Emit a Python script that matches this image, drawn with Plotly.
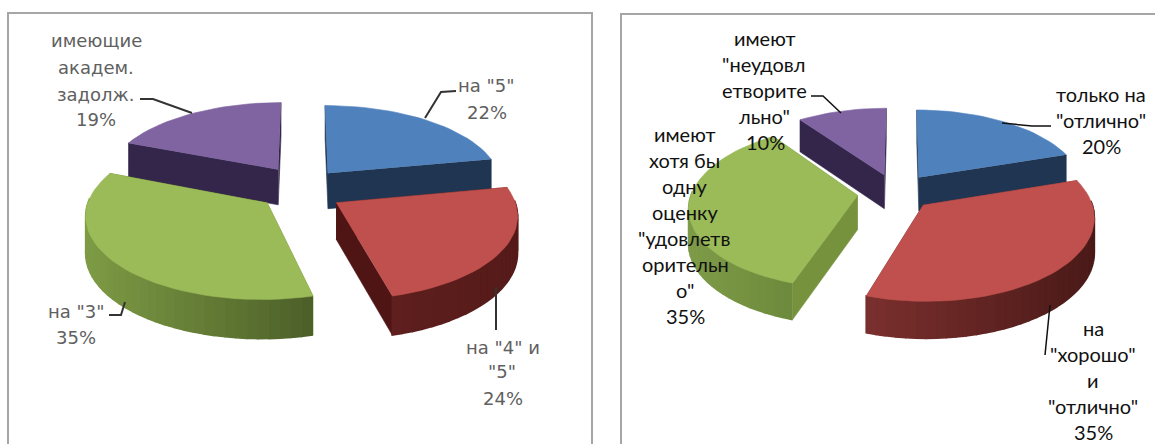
import math
import plotly.graph_objects as go

# ---- data ----
left_values = [22, 24, 35, 19]
right_values = [20, 35, 35, 10]
top_colors = ["#4f81bd", "#c0504d", "#9bbb59", "#8064a2"]

# ---- labels: one entry per text line (x, y, text) ----
left_labels = [
    (96, 40, "имеющие"), (96, 67, "академ."), (96, 94, "задолж."), (96, 119, "19%"),
    (486, 85, "на \"5\""), (487, 112, "22%"),
    (503, 347, "на \"4\" и"), (502, 371, "\"5\""), (503, 398, "24%"),
    (76, 311, "на \"3\""), (76, 337, "35%"),
]
right_labels = [
    (765, 38, "имеют"), (764, 64, "\"неудовл"), (764, 90, "етворите"), (764, 116, "льно\""), (765, 142, "10%"),
    (685, 134, "имеют"), (684, 160, "хотя бы"), (685, 186, "одну"), (685, 212, "оценку"),
    (684, 238, "\"удовлетв"), (685, 264, "орительн"), (685, 290, "о\""), (685, 316, "35%"),
    (1101, 94, "только на"), (1101, 120, "\"отлично\""), (1101, 146, "20%"),
    (1093, 328, "на"), (1093, 354, "\"хорошо\""), (1093, 380, "и"), (1093, 406, "\"отлично\""), (1093, 432, "35%"),
]
left_leaders = [
    [(425, 118), (441, 92), (456, 91)],
    [(192, 113), (153, 99), (140, 99)],
    [(496, 287), (496, 330)],
    [(125, 302), (121, 315), (109, 315)],
]
right_leaders = [
    [(1002, 123), (1032, 126), (1051, 126)],
    [(841, 113), (823, 96), (811, 96)],
    [(1050, 305), (1045, 355)],
]

# ---- projection settings for each pie ----
left_view = dict(cx=303, cy=188, A=175, B=80, k=0.13, Z=36,
                 pulls=[(0.146, -0.19), (0.185, 0.18), (-0.2, 0.18), (-0.146, -0.24)],
                 order=[3, 0, 2, 1],
                 cut=["#1f3552", "#4f1414", "#76923c", "#33264a"],
                 arc=[("#1f3552", "#1f3552"), ("#5e1f1e", "#551a19"), ("#7e9b45", "#4c5f28"), ("#33264a", "#33264a")])
right_view = dict(cx=901, cy=189, A=165, B=79, k=0.13, Z=34,
                  pulls=[(0.11, -0.15), (0.13, 0.2), (-0.26, 0.08), (-0.103, -0.18)],
                  order=[3, 0, 2, 1],
                  cut=["#1f3552", "#7a2f2d", "#76923c", "#33264a"],
                  arc=[("#1f3552", "#1f3552"), ("#7a2f2d", "#4a1a18"), ("#7e9b48", "#6d8a3c"), ("#33264a", "#33264a")])


def mix(a, b, t):
    ca = [int(a[i:i + 2], 16) for i in (1, 3, 5)]
    cb = [int(b[i:i + 2], 16) for i in (1, 3, 5)]
    return "#%02x%02x%02x" % tuple(round(u + (v - u) * t) for u, v in zip(ca, cb))


def project(view, X, Y, z=0.0):
    s = 1 / (1 - view["k"] * Y)
    return view["cx"] + view["A"] * X * s, view["cy"] + view["B"] * Y * s + z * s ** 0.5


def poly(fig, pts, color, w=0.6):
    fig.add_trace(go.Scatter(x=[p[0] for p in pts], y=[p[1] for p in pts], mode="lines",
                             fill="toself", fillcolor=color,
                             line=dict(color=color, width=w),
                             hoverinfo="skip", showlegend=False))


def draw_pie(fig, values, view):
    total = sum(values)
    spans, acc = [], 0.0
    for v in values:
        spans.append((acc, acc + v / total * 360))
        acc += v / total * 360
    for i in view["order"]:
        a0, a1 = spans[i]
        px, py = view["pulls"][i]
        n = max(4, int((a1 - a0) / 3))
        angs = [a0 + (a1 - a0) * j / n for j in range(n + 1)]
        rim = [(px + math.sin(math.radians(t)), py - math.cos(math.radians(t))) for t in angs]
        zh = view["Z"]
        for end in (rim[0], rim[-1]):
            face = [project(view, px, py), project(view, *end),
                    project(view, *end, zh), project(view, px, py, zh)]
            poly(fig, face, view["cut"][i])
        xs = [project(view, *r)[0] for r in rim]
        lo, hi = min(xs), max(xs)
        for j in range(n):
            if rim[j][1] + rim[j + 1][1] - 2 * py < -0.1:
                continue
            t = ((xs[j] + xs[j + 1]) / 2 - lo) / max(hi - lo, 1)
            quad = [project(view, *rim[j]), project(view, *rim[j + 1]),
                    project(view, *rim[j + 1], zh), project(view, *rim[j], zh)]
            poly(fig, quad, mix(view["arc"][i][0], view["arc"][i][1], t), 1.6)
        top = [project(view, px, py)] + [project(view, *r) for r in rim]
        poly(fig, top, top_colors[i])


fig = go.Figure()
draw_pie(fig, left_values, left_view)
draw_pie(fig, right_values, right_view)

for group, color, w in ((left_leaders, "#333333", 2), (right_leaders, "#111111", 1.5)):
    for seg in group:
        fig.add_trace(go.Scatter(x=[p[0] for p in seg], y=[p[1] for p in seg], mode="lines",
                                 line=dict(color=color, width=w), hoverinfo="skip", showlegend=False))

annos = []
for x, y, t in left_labels:
    annos.append(dict(x=x, y=y, text=t, showarrow=False, xref="x", yref="y",
                      font=dict(family="DejaVu Sans", size=18, color="#606060")))
for x, y, t in right_labels:
    annos.append(dict(x=x, y=y, text=t, showarrow=False, xref="x", yref="y",
                      font=dict(family="Lato", size=20, color="#111111")))

frames = [
    dict(type="rect", xref="x", yref="y", x0=8, x1=592, y0=13, y1=460,
         line=dict(color="#a6a6a6", width=2), fillcolor="white", layer="below"),
    dict(type="rect", xref="x", yref="y", x0=621, x1=1170, y0=14, y1=460,
         line=dict(color="#a6a6a6", width=2), fillcolor="white", layer="below"),
]

fig.update_layout(
    width=1155, height=444, margin=dict(l=0, r=0, t=0, b=0, pad=0),
    paper_bgcolor="white", plot_bgcolor="white", showlegend=False,
    xaxis=dict(range=[0, 1155], visible=False, fixedrange=True),
    yaxis=dict(range=[444, 0], visible=False, fixedrange=True),
    annotations=annos, shapes=frames,
)
fig.write_html("out.html", config=dict(displayModeBar=False, responsive=False),
               post_script="document.body.style.margin='0';document.documentElement.style.overflow='hidden';")
